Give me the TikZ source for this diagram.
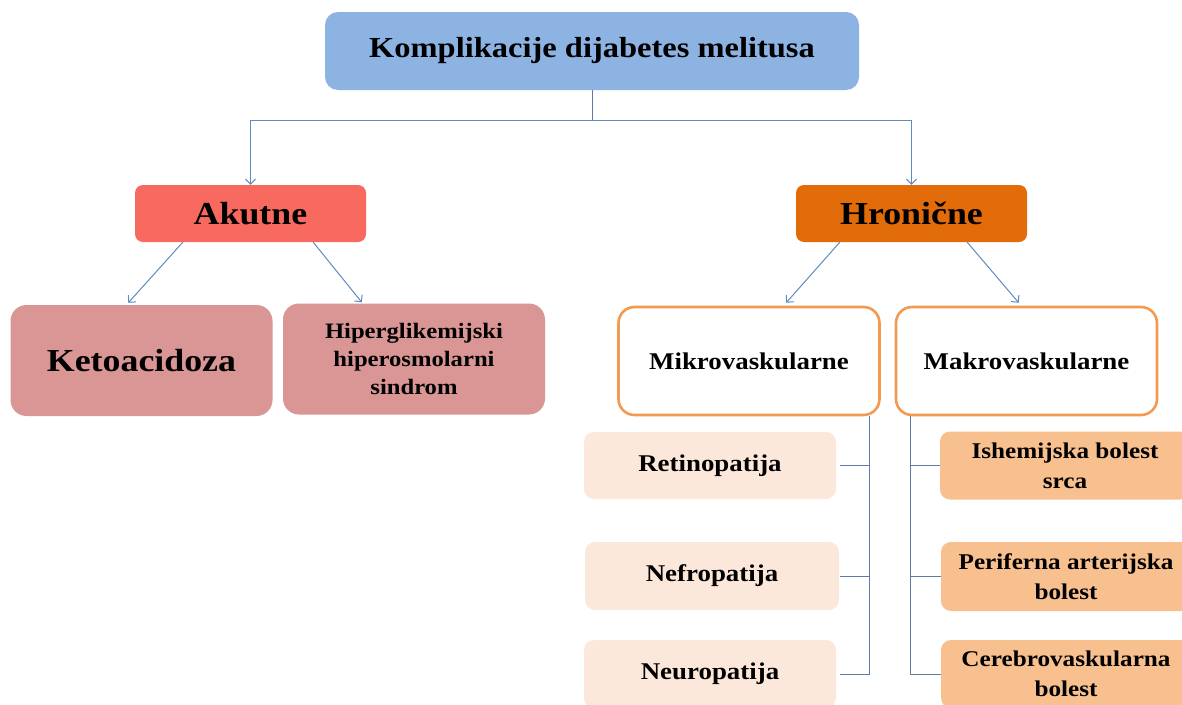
\documentclass[tikz,border=0pt]{standalone}
\usepackage{fontspec}
\setmainfont{Liberation Serif}[FakeStretch=1.12]
\usetikzlibrary{arrows.meta}
\definecolor{topblue}{HTML}{8DB3E2}
\definecolor{akred}{HTML}{F8695F}
\definecolor{hrorange}{HTML}{E36C0A}
\definecolor{rose}{HTML}{D99694}
\definecolor{orbord}{HTML}{F39A50}
\definecolor{peach}{HTML}{FCE8DA}
\definecolor{lorange}{HTML}{F9C08F}
\definecolor{conn}{HTML}{5B7DA3}
\definecolor{arrc}{HTML}{5F8CC0}
\tikzset{
  box/.style={align=center, inner sep=2pt, font=\bfseries, text=black},
  topbox/.style={box, fill=topblue, rounded corners=13pt, minimum width=534pt, minimum height=78pt, font=\fontsize{29}{34}\selectfont\bfseries},
  catbox/.style={box, rounded corners=8pt, minimum width=231pt, minimum height=57pt, font=\fontsize{32}{36}\selectfont\bfseries},
  rosebox/.style={box, fill=rose, rounded corners=16pt, minimum width=262pt, minimum height=111pt},
  typebox/.style={box, fill=white, draw=orbord, line width=2.6pt, rounded corners=16pt, minimum width=261pt, minimum height=108pt, font=\fontsize{24}{28}\selectfont\bfseries},
  leftitem/.style={box, fill=peach, rounded corners=10pt, minimum width=252pt, minimum height=67pt, font=\fontsize{24}{28}\selectfont\bfseries},
  rightitem/.style={box, fill=lorange, rounded corners=10pt, minimum width=250pt, minimum height=68pt, font=\fontsize{22.5}{30}\selectfont\bfseries},
  link/.style={draw=conn, line width=1pt},
  arr/.style={draw=arrc, line width=1pt, -{Straight Barb[length=5pt,width=10pt]}},
}
\begin{document}
\begin{tikzpicture}[x=1pt,y=-1pt]
\useasboundingbox (0,0) rectangle (1182,704);
\clip (0,0) rectangle (1182,704);
\fill[white] (0,0) rectangle (1182,704);

\node[topbox] (top) at (592,51) {Komplikacije dijabetes melitusa};
\node[catbox, fill=akred] (akutne) at (250.5,213.5) {Akutne};
\node[catbox, fill=hrorange] (hron) at (911.5,213.5) {Hronične};

\node[rosebox, font=\fontsize{32}{36}\selectfont\bfseries] (keto) at (141.5,360.5) {Ketoacidoza};
\node[rosebox, font=\fontsize{22}{28}\selectfont\bfseries] (hiper) at (414,359) {Hiperglikemijski\\hiperosmolarni\\sindrom};

\node[typebox] (mikro) at (749,361) {Mikrovaskularne};
\node[typebox] (makro) at (1026.5,361) {Makrovaskularne};

\node[leftitem] (ret) at (710,465.5) {Retinopatija};
\node[leftitem, minimum width=254pt, minimum height=68pt] (nef) at (712,576) {Nefropatija};
\node[leftitem, minimum height=68pt] (neu) at (710,674) {Neuropatija};

\node[rightitem] (ish) at (1065,465.5) {Ishemijska bolest\\srca};
\node[rightitem, minimum height=69pt] (per) at (1066,576.5) {Periferna arterijska\\bolest};
\node[rightitem] (cer) at (1066,674) {Cerebrovaskularna\\bolest};

% top connectors
\coordinate (split) at ([yshift=-30pt]top.south);
\draw[link] (top.south) -- (split);
\draw[arr] (split) -| (akutne.north);
\draw[arr] (split) -| (hron.north);

% akutne children
\draw[arr] ([xshift=48pt]akutne.south west) -- ([xshift=118pt,yshift=2pt]keto.north west);
\draw[arr] ([xshift=-53pt]akutne.south east) -- ([xshift=79pt,yshift=1pt]hiper.north west);

% hronicne children
\draw[arr] ([xshift=44pt]hron.south west) -- ([xshift=169pt,yshift=3pt]mikro.north west);
\draw[arr] ([xshift=-60pt]hron.south east) -- ([xshift=124pt,yshift=3pt]makro.north west);

% mikro list
\coordinate (mv) at ([xshift=-11pt]mikro.south east);
\draw[link] (mv) |- ([xshift=4pt]neu.east);
\draw[link] ([xshift=4pt]ret.east) -- (ret.east -| mv);
\draw[link] ([xshift=1pt]nef.east) -- (nef.east -| mv);

% makro list
\coordinate (kv) at ([xshift=16pt]makro.south west);
\draw[link] (kv) |- (cer.west);
\draw[link] (ish.west) -- (ish.west -| kv);
\draw[link] (per.west) -- (per.west -| kv);
\end{tikzpicture}
\end{document}
